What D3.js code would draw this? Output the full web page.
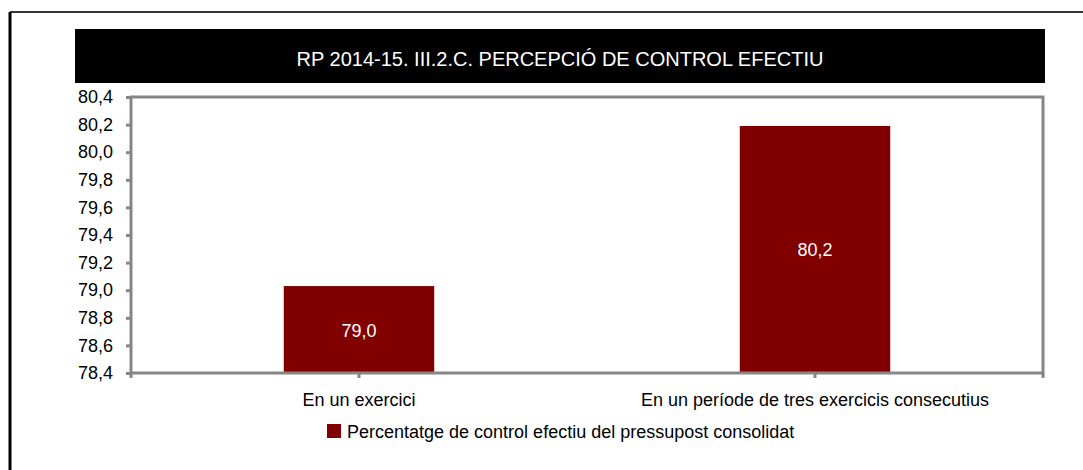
<!DOCTYPE html>
<meta charset="utf-8">
<style>
body { margin: 0; background: #fff; }
text { font-family: "Liberation Sans", Arial, sans-serif; }
</style>
<svg width="1083" height="470"></svg>
<script src="https://d3js.org/d3.v7.min.js"></script>
<script>

var title = "RP 2014-15. III.2.C. PERCEPCIÓ DE CONTROL EFECTIU";
var categories = ["En un exercici", "En un període de tres exercicis consecutius"];
var values = [79.03, 80.19];
var value_labels = ["79,0", "80,2"];
var y_ticks = [78.4, 78.6, 78.8, 79.0, 79.2, 79.4, 79.6, 79.8, 80.0, 80.2, 80.4];
var series_name = "Percentatge de control efectiu del pressupost consolidat";

var bar_colour = "#800000";
var axis_colour = "#868686";

var svg = d3.select("svg");

// plot box (not "top": that name is taken by window.top)
var plot_left = 131, plot_right = 1043, plot_top = 97, plot_bottom = 373;

// outer frame (only top and left edges show)
svg.append("line").attr("x1", 10).attr("y1", 12).attr("x2", 1083).attr("y2", 12)
   .style("stroke", "#333").style("stroke-width", 2);
svg.append("line").attr("x1", 10).attr("y1", 12).attr("x2", 10).attr("y2", 470)
   .style("stroke", "#000").style("stroke-width", 3);

// title bar
svg.append("rect").attr("x", 75).attr("y", 29).attr("width", 970).attr("height", 54)
   .style("fill", "#000");
svg.append("text").attr("x", 560).attr("y", 66).attr("text-anchor", "middle")
   .style("fill", "#fff").style("font-size", "20px").text(title);

var y = d3.scaleLinear().domain([78.4, 80.4]).range([plot_bottom, plot_top]);
var x = d3.scaleBand().domain(categories).range([plot_left, plot_right]).padding(0);
var bar_w = x.bandwidth() * 0.33;

// bars
svg.selectAll(".bar").data(values).enter().append("rect")
   .attr("class", "bar")
   .attr("x", function(d, i) { return x(categories[i]) + x.bandwidth()/2 - bar_w/2; })
   .attr("y", function(d) { return y(d); })
   .attr("width", bar_w)
   .attr("height", function(d) { return plot_bottom - y(d); })
   .style("fill", bar_colour);

// value labels
svg.selectAll(".vlab").data(values).enter().append("text")
   .attr("x", function(d, i) { return x(categories[i]) + x.bandwidth()/2; })
   .attr("y", function(d) { return (y(d) + plot_bottom)/2 + 7; })
   .attr("text-anchor", "middle")
   .style("fill", "#fff").style("font-size", "18px")
   .text(function(d, i) { return value_labels[i]; });

// plot border
svg.append("rect").attr("x", plot_left).attr("y", plot_top)
   .attr("width", plot_right - plot_left).attr("height", plot_bottom - plot_top)
   .style("fill", "none").style("stroke", axis_colour).style("stroke-width", 3);

// y axis
var yAxis = d3.axisLeft(y).tickValues(y_ticks).tickSize(5).tickPadding(13)
   .tickFormat(function(d) { return d3.format(".1f")(d).replace(".", ","); });
var gy = svg.append("g").attr("transform", "translate(" + plot_left + ",0)").call(yAxis);
gy.select(".domain").remove();
gy.selectAll("line").style("stroke", axis_colour).style("stroke-width", 3);
gy.selectAll("text").style("font-size", "18px").style("fill", "#000")
  .style("font-family", "'Liberation Sans', Arial, sans-serif");

// x axis
var xAxis = d3.axisBottom(x).tickSize(5).tickPadding(15);
var gx = svg.append("g").attr("transform", "translate(0," + plot_bottom + ")").call(xAxis);
gx.select(".domain").remove();
gx.selectAll("line").style("stroke", axis_colour).style("stroke-width", 3);
gx.selectAll("text").style("font-size", "18px").style("fill", "#000")
  .style("font-family", "'Liberation Sans', Arial, sans-serif");
// end ticks of the category axis
[plot_left, plot_right].forEach(function(px) {
  svg.append("line").attr("x1", px).attr("x2", px).attr("y1", plot_bottom).attr("y2", plot_bottom + 5)
     .style("stroke", axis_colour).style("stroke-width", 3);
});

// legend
svg.append("rect").attr("x", 327).attr("y", 424).attr("width", 14).attr("height", 14)
   .style("fill", bar_colour);
svg.append("text").attr("x", 347).attr("y", 438).style("font-size", "18px")
   .style("fill", "#000").text(series_name);

</script>
